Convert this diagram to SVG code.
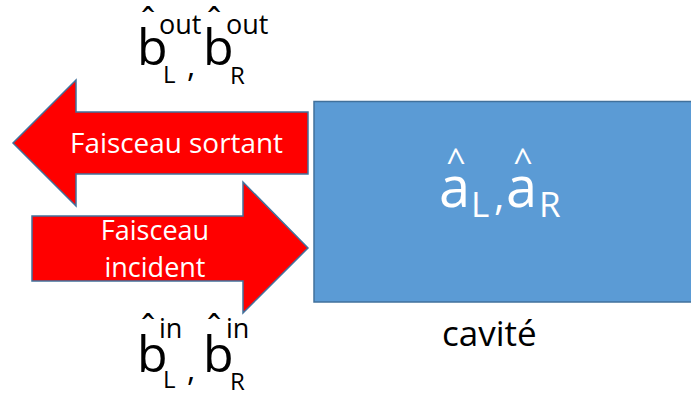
<svg xmlns="http://www.w3.org/2000/svg" width="691" height="398" viewBox="0 0 691 398">
<style>
text{font-family:"Open Sans","Noto Sans",sans-serif}
.blk{fill:#000}
.wht{fill:#fff}
.arrow{fill:#ff0000;stroke:#41719c;stroke-width:1.5;stroke-linejoin:miter}
.box{fill:#5b9bd5;stroke:#41719c;stroke-width:1.5}
.hat{text-anchor:middle}
</style>
<rect width="691" height="398" fill="#fff"/>
<g id="cavite">
<rect class="box" x="314" y="101.5" width="380" height="200.5"/>
<text class="wht" font-size="56"><tspan class="hat" x="456" y="173" font-size="34">^</tspan><tspan x="439" y="207">a</tspan><tspan x="471" y="217" font-size="35">L</tspan><tspan x="494" y="210" font-size="40">,</tspan><tspan class="hat" x="523" y="173" font-size="34">^</tspan><tspan x="506" y="207">a</tspan><tspan x="539" y="217" font-size="35">R</tspan></text>
<text class="blk" x="442" y="346" font-size="35">cavité</text>
</g>
<g id="connectors">
<g id="faisceau-sortant">
<polygon class="arrow" points="308,112 76,112 76,80 13,143 76,206 76,174 308,174"/>
<text class="wht" x="70" y="153" font-size="27" textLength="213" lengthAdjust="spacingAndGlyphs">Faisceau sortant</text>
</g>
<g id="faisceau-incident">
<polygon class="arrow" points="32,216 243,216 243,182 308,248 243,313 243,281 32,281"/>
<text class="wht" x="155" y="240" font-size="27" text-anchor="middle">Faisceau</text>
<text class="wht" x="155" y="277" font-size="27" text-anchor="middle">incident</text>
</g>
</g>
<g id="b-out">
<text class="blk" font-size="50"><tspan class="hat" x="148" y="34" font-size="36">ˆ</tspan><tspan x="137" y="65">b</tspan><tspan x="159" y="34" font-size="27">out</tspan><tspan x="163" y="83" font-size="24">L</tspan><tspan x="187" y="77" font-size="32">,</tspan><tspan class="hat" x="214" y="34" font-size="36">ˆ</tspan><tspan x="203" y="65">b</tspan><tspan x="226" y="34" font-size="27">out</tspan><tspan x="230" y="84" font-size="24">R</tspan></text>
</g>
<g id="b-in">
<text class="blk" font-size="50"><tspan class="hat" x="148" y="341" font-size="36">ˆ</tspan><tspan x="137" y="372" font-size="50">b</tspan><tspan x="159" y="338" font-size="27">in</tspan><tspan x="163" y="388" font-size="24">L</tspan><tspan x="187" y="381" font-size="32">,</tspan><tspan class="hat" x="214" y="341" font-size="36">ˆ</tspan><tspan x="203" y="372">b</tspan><tspan x="226" y="338" font-size="27">in</tspan><tspan x="230" y="390" font-size="24">R</tspan></text>
</g>
</svg>
